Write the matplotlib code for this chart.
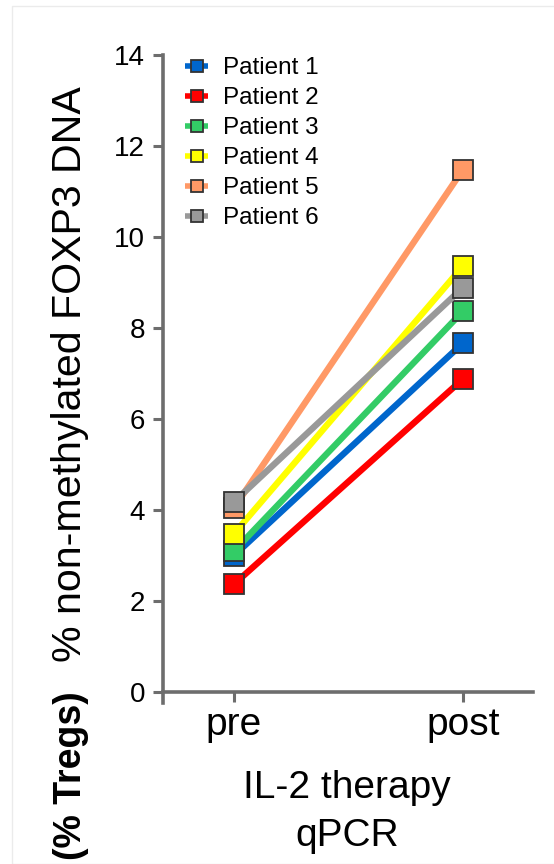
import matplotlib
matplotlib.use("Agg")
import matplotlib.pyplot as plt
from matplotlib.patches import Rectangle

plt.rcParams['font.family'] = ['Liberation Sans', 'DejaVu Sans']

# data
time_points = ['pre', 'post']
patients = ['Patient 1', 'Patient 2', 'Patient 3', 'Patient 4', 'Patient 5', 'Patient 6']
pre_vals = [3.0, 2.37, 3.1, 3.48, 4.05, 4.18]
post_vals = [7.67, 6.88, 8.37, 9.36, 11.48, 8.89]
colors = ['#0066cc', '#ff0000', '#33cc66', '#ffff00', '#ff9966', '#999999']

spine_col = '#6d6d6d'
W, H = 554, 864

fig = plt.figure(figsize=(5.54, 8.64), dpi=100)
ax = fig.add_axes([163 / W, 1 - 703 / H, 370 / W, 648 / H])

x = range(len(time_points))
for i in range(len(patients)):
    ax.plot(x, [pre_vals[i], post_vals[i]], color=colors[i], lw=4.6,
            marker='s', markersize=14.5, markerfacecolor=colors[i],
            markeredgecolor='#333333', markeredgewidth=1.3,
            label=patients[i], solid_capstyle='butt', zorder=3 + i)

ax.set_xlim(-0.31, 1.306)
ax.set_ylim(-0.24, 14)
ax.set_yticks(range(0, 15, 2))
ax.set_xticks(list(x))
ax.set_xticklabels(time_points)

for s in ['top', 'right']:
    ax.spines[s].set_visible(False)
ax.spines['bottom'].set_position(('data', 0))
for s in ['left', 'bottom']:
    ax.spines[s].set_color(spine_col)
    ax.spines[s].set_linewidth(2.6)
ax.tick_params(axis='y', direction='out', length=7, width=2.2, color=spine_col,
               labelsize=20, pad=6)
ax.tick_params(axis='x', direction='out', length=7.5, width=2.2, color=spine_col,
               labelsize=28, pad=3)

leg = ax.legend(loc='upper left', bbox_to_anchor=(185 / W, 1 - 57 / H),
                bbox_transform=fig.transFigure, frameon=False, fontsize=17.5,
                handlelength=0.95, handletextpad=0.62, labelspacing=0.33,
                markerscale=0.55, borderpad=0, borderaxespad=0)
for h in leg.get_lines():
    h.set_linewidth(4)

fig.text(347 / W, 1 - 798 / H, 'IL-2 therapy', ha='center', va='baseline', fontsize=28)
fig.text(347 / W, 1 - 846 / H, 'qPCR', ha='center', va='baseline', fontsize=28)

fig.text(81 / W, 1 - 374 / H, '% non-methylated FOXP3 DNA', rotation=90,
         rotation_mode='anchor', ha='center', va='baseline', fontsize=29.6)
fig.text(81 / W, 1 - 776 / H, '(% Tregs)', rotation=90, rotation_mode='anchor',
         ha='center', va='baseline', fontsize=27, fontweight='bold')

fig.patches.append(Rectangle((12 / W, 0), 1, 1 - 6 / H, transform=fig.transFigure,
                             fill=False, edgecolor='#ebebeb', lw=1))

fig.savefig('out.png', dpi=100)
